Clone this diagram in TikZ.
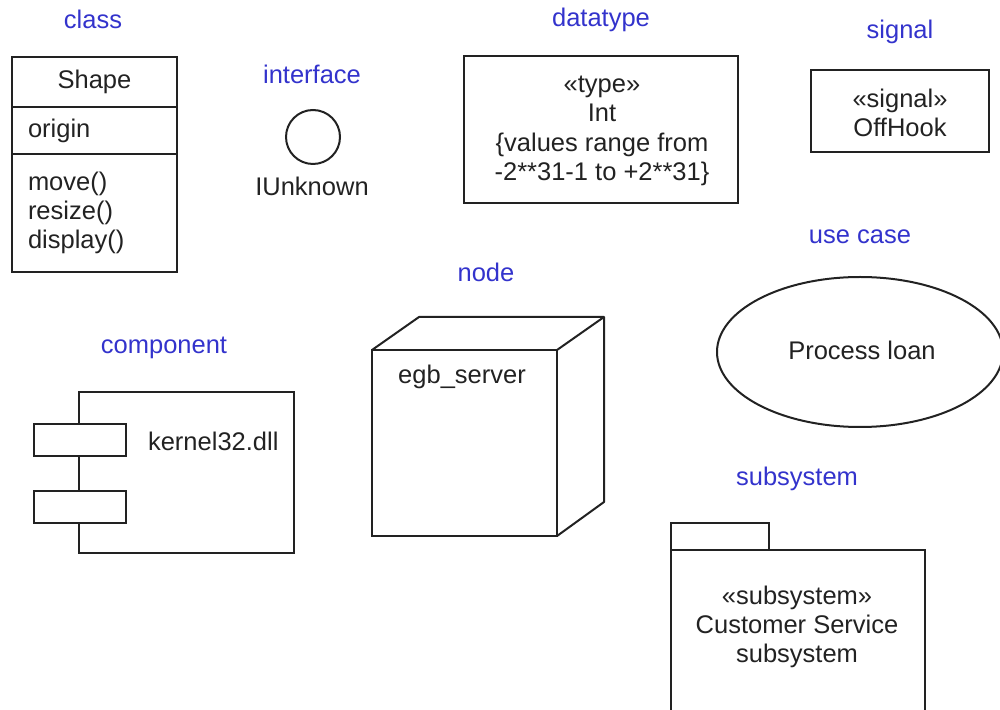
\documentclass[tikz,border=0pt]{standalone}
\usepackage{fontspec}
\setmainfont{Liberation Sans}
\usetikzlibrary{positioning,shapes.geometric}
\definecolor{kindblue}{HTML}{3333CC}
\definecolor{ink}{HTML}{222222}

\begin{document}
\begin{tikzpicture}[
  x=0.5pt, y=-0.5pt,
  font=\fontsize{12.75}{14.65}\selectfont, text=ink,
  box/.style={draw=ink, line width=1pt, outer sep=0pt, inner sep=0pt, align=center},
  comp/.style={box, minimum width=82.5pt, text width=66.5pt, inner xsep=8pt, align=left},
  plug/.style={box, fill=white, minimum width=46pt, minimum height=16pt},
  lbl/.style={text=kindblue}
]
\useasboundingbox (0,0) rectangle (1000,710);

\node[lbl] (kclass) at (93,19) {class};
\node[box, minimum width=82.5pt, minimum height=25pt] (clsname) at (94.5,82) {Shape};
\node[comp, minimum height=23.5pt, below=0pt of clsname] (clsattr) {origin};
\node[comp, minimum height=59pt, below=0pt of clsattr] (clsops) {move()\\resize()\\display()};

\node[lbl] (kiface) at (312,74) {interface};
\node[box, circle, minimum size=27pt] (iface) at (313,137) {};
\node (ifname) at (312,186) {IUnknown};

\node[lbl] (kdtype) at (601,20) {datatype};
\node[box, minimum width=137pt, minimum height=73.5pt] (dtype) at (601,129.5) {};
\node[align=center] (dtext) at (602,131) {«type»\\Int\\\{values range from\\-2**31-1 to +2**31\}};

\node[lbl] (ksig) at (900,32) {signal};
\node[box, minimum width=89pt, minimum height=41pt] (sig) at (900,111) {};
\node[align=center] (sigtext) at (900,113) {«signal»\\OffHook};

\node[lbl] (kuse) at (860,237) {use case};
\node[box, ellipse, minimum width=143pt, minimum height=75pt] (usecase) at (860,352) {};
\node (ucname) at (862,350) {Process loan};

\node[lbl] (knode) at (486,272) {node};
\node[box, minimum width=92.5pt, minimum height=93pt] (srv) at (464.5,443) {};
\draw[ink, line width=1pt, line join=round] (srv.north west) -- ++(47,-33) -- ++(185,0) -- ++(0,185) -- (srv.south east);
\draw[ink, line width=1pt] (srv.north east) -- ++(47,-33);
\node (srvname) at (462,377) {egb\_server};

\node[lbl] (kcomp) at (164,348) {component};
\node[box, minimum width=107.5pt, minimum height=80.5pt] (dll) at (186.5,472.5) {};
\node[plug] (plugA) at (80,440) {};
\node[plug] (plugB) at (80,506.5) {};
\node[anchor=west] (dllname) at (141,441) {kernel32.dll};

\node[lbl] (ksub) at (797,479) {subsystem};
\node[box, minimum width=127pt, minimum height=87pt] (pkg) at (798,637) {};
\node[box, minimum width=49pt, minimum height=13.5pt, anchor=south west] (pkgtab) at (pkg.north west) {};
\node[align=center] (pkgname) at (797,627) {«subsystem»\\Customer Service\\subsystem};
\end{tikzpicture}
\end{document}
